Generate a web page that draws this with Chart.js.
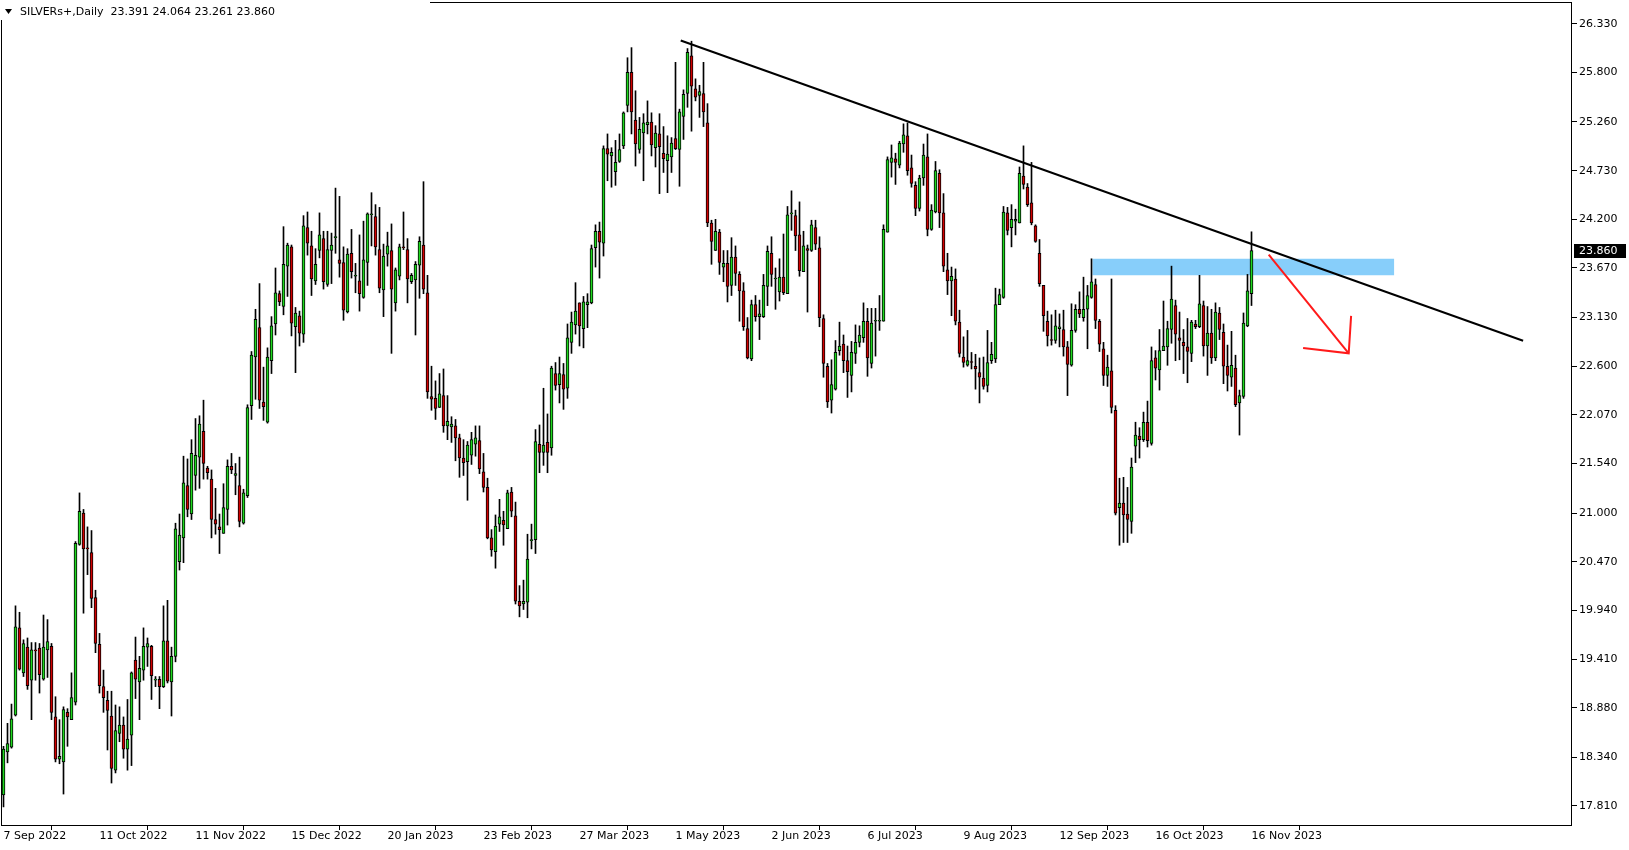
<!DOCTYPE html>
<html>
<head>
<meta charset="utf-8">
<title>SILVERs+ Daily</title>
<script src="https://cdn.jsdelivr.net/npm/chart.js@4.4.0/dist/chart.umd.min.js"></script>
<style>
  html, body { margin: 0; padding: 0; background: #fff; }
  #wrap { width: 1629px; height: 850px; }
</style>
</head>
<body>
<div id="wrap"><canvas id="chart" width="1629" height="850"></canvas></div>
<script>
// daily bars, 7 Sep 2022 .. 16 Nov 2023
const opens = [17.93,18.40,18.45,18.80,19.75,19.26,19.54,19.18,19.51,19.53,19.19,19.51,19.55,18.78,18.32,18.29,18.83,18.75,18.94,20.66,
21.00,20.62,20.57,20.08,19.57,19.11,18.96,18.79,18.20,18.60,18.69,18.43,18.58,19.40,19.16,19.29,19.54,19.55,19.18,19.19,
19.11,19.61,19.16,19.44,20.47,20.73,21.30,20.99,21.41,21.61,21.89,21.49,21.37,20.93,20.85,20.78,21.04,21.51,21.41,21.30,
20.89,21.19,22.17,22.70,23.02,22.21,21.99,22.66,23.06,23.39,23.25,23.69,23.90,23.03,23.15,22.95,24.11,23.91,23.53,23.86,
23.99,23.49,23.86,24.00,23.76,23.73,23.19,23.83,23.58,23.53,23.35,23.73,24.25,24.23,23.87,23.43,23.82,23.86,23.29,23.58,
23.90,23.87,23.52,23.54,23.70,23.92,23.40,22.27,22.25,22.15,22.28,21.95,21.94,21.95,21.82,21.60,21.56,21.63,21.75,21.79,
21.45,21.28,20.73,20.58,20.88,20.92,20.83,21.23,20.97,20.04,20.01,20.03,20.70,20.71,21.75,21.66,21.77,21.71,22.52,22.40,
22.51,22.36,22.86,23.05,23.29,23.01,23.27,23.29,23.89,24.07,23.94,24.97,24.89,24.72,24.83,25.00,25.44,25.80,25.28,24.96,
25.14,25.23,25.26,24.98,25.13,24.92,24.84,24.88,25.08,24.96,25.32,25.57,25.98,25.62,25.55,25.57,25.25,24.16,23.86,24.06,
23.68,23.72,23.48,23.79,23.60,23.42,23.01,22.68,23.27,23.14,23.14,23.47,23.83,23.55,23.41,23.57,23.39,24.26,24.24,24.03,
23.63,23.88,23.86,24.11,23.89,23.12,22.60,22.23,22.35,22.77,22.84,22.66,22.50,22.74,22.86,22.91,23.09,22.63,23.09,23.09,
23.09,24.06,24.82,24.86,24.79,25.02,25.11,24.76,24.57,24.32,24.65,24.88,24.09,24.28,24.70,24.27,23.65,23.53,23.55,23.08,
22.70,22.61,22.65,22.60,22.53,22.47,22.39,22.66,22.68,23.27,23.35,24.27,24.11,24.18,24.16,24.67,24.55,24.38,24.13,23.83,
23.48,23.09,22.89,22.88,23.01,23.00,22.81,22.61,22.99,23.22,23.13,23.22,23.35,23.49,23.09,22.79,22.50,22.55,22.12,21.06,
21.11,20.99,20.91,21.73,21.84,21.80,21.99,21.76,22.69,22.56,22.77,22.81,23.00,23.26,22.91,22.86,22.81,22.74,23.06,23.03,
23.26,22.82,22.96,22.69,23.18,22.97,22.60,22.48,22.58,22.20,22.27,23.04,23.391];
const highs = [18.46,18.71,18.92,19.99,19.92,19.62,19.64,19.59,19.59,19.58,19.89,19.84,19.58,19.00,18.75,18.89,18.87,19.26,20.69,21.22,
21.04,20.85,20.81,20.16,19.69,19.29,19.06,19.06,18.91,18.89,18.78,18.97,19.27,19.65,19.44,19.75,19.64,19.56,19.22,19.22,
19.99,20.05,19.54,20.89,20.99,21.62,21.59,21.80,22.03,22.06,22.23,21.51,21.47,21.27,20.99,21.32,21.58,21.65,21.54,21.61,
21.26,22.18,22.76,23.22,23.50,22.59,22.80,23.14,23.67,23.42,24.12,23.94,23.92,23.24,23.20,24.24,24.28,24.07,23.88,24.27,
24.07,24.07,24.05,24.54,24.45,23.90,23.88,24.09,23.72,24.03,24.18,24.27,24.49,24.36,24.33,23.93,24.06,24.15,23.67,23.93,
24.28,23.99,23.61,23.74,24.01,24.61,23.59,22.60,22.44,22.52,22.57,22.28,22.05,22.02,21.86,21.80,21.78,21.88,21.95,21.95,
21.65,21.38,20.82,20.98,21.15,21.02,21.25,21.28,21.12,20.21,20.27,20.77,20.88,21.91,21.96,22.36,22.08,22.60,22.64,22.70,
22.63,23.06,23.19,23.51,23.29,23.36,23.39,23.92,24.14,24.17,25.00,25.13,24.98,25.06,25.13,25.37,25.96,26.07,25.60,25.31,
25.35,25.49,25.36,25.22,25.35,25.21,25.11,25.09,25.91,25.40,25.61,26.06,26.14,25.73,25.66,25.91,25.46,24.19,24.20,24.09,
23.86,23.86,24.00,23.91,23.63,23.51,23.13,23.32,23.37,23.32,23.60,23.91,24.01,23.67,23.77,24.04,24.34,24.51,24.30,24.39,
24.07,23.92,24.19,24.19,24.01,23.16,22.63,22.67,22.88,23.08,22.94,22.82,22.87,23.05,23.04,23.29,23.23,23.23,23.23,23.37,
24.14,24.88,25.01,24.92,25.05,25.24,25.25,24.90,24.61,24.68,25.02,25.13,24.36,24.83,24.74,24.48,23.83,23.68,23.66,23.21,
22.92,22.99,22.75,22.73,22.69,22.70,22.99,22.86,23.45,23.44,24.34,24.33,24.36,24.31,24.77,25.00,24.59,24.82,24.14,23.98,
23.48,23.20,23.16,23.21,23.17,23.21,22.87,23.28,23.27,23.41,23.57,23.48,23.77,23.55,23.11,22.86,22.72,23.55,22.17,21.38,
21.39,21.28,21.60,21.99,21.93,22.10,22.22,22.81,22.77,23.00,23.31,23.09,23.69,23.32,23.19,23.00,23.12,23.10,23.10,23.59,
23.31,23.25,23.22,23.29,23.24,23.06,22.83,22.98,22.72,22.34,23.18,23.60,24.064];
const lows = [17.80,18.28,18.44,18.79,19.29,19.22,19.08,18.75,19.18,19.04,19.18,19.21,18.75,18.29,18.27,17.94,18.46,18.75,18.91,20.65,
19.91,20.33,19.97,19.48,19.04,18.83,18.42,18.06,18.17,18.51,18.33,18.20,18.25,18.98,18.75,19.18,19.33,18.97,19.11,18.87,
19.10,19.15,18.79,19.38,20.38,20.46,20.96,20.93,21.25,21.27,21.37,21.37,20.73,20.77,20.56,20.78,20.87,21.43,21.20,20.85,
20.88,21.17,22.02,22.24,22.14,22.01,21.98,22.52,22.94,23.26,23.16,23.36,22.93,22.53,22.82,22.86,23.81,23.37,23.49,23.78,
23.44,23.47,23.50,23.83,23.57,23.10,23.18,23.56,23.40,23.20,23.34,23.48,23.91,23.81,23.40,23.14,23.69,22.74,23.20,23.54,
23.87,23.29,23.50,22.94,23.34,23.39,22.25,22.12,22.02,22.15,21.88,21.80,21.77,21.57,21.39,21.41,21.14,21.53,21.62,21.43,
21.23,20.72,20.53,20.40,20.80,20.65,20.83,20.96,20.01,19.87,19.95,19.86,20.61,20.56,21.44,21.52,21.44,21.63,22.34,22.20,
22.13,22.25,22.74,22.95,22.82,22.80,23.02,23.28,23.68,23.56,23.80,24.62,24.55,24.57,24.82,24.97,25.37,25.13,24.78,24.92,
24.62,25.13,24.89,24.77,24.48,24.71,24.49,24.71,24.96,24.56,25.07,25.42,25.16,25.49,25.31,25.21,24.12,23.71,23.86,23.60,
23.52,23.30,23.37,23.48,23.09,22.99,22.68,22.66,23.09,22.89,23.13,23.26,23.47,23.22,23.31,23.38,23.39,24.08,23.86,23.58,
23.63,23.19,23.85,23.87,23.03,22.48,22.15,22.09,22.34,22.72,22.53,22.26,22.32,22.63,22.81,22.86,22.49,22.58,22.71,22.99,
23.09,24.06,24.66,24.58,24.76,24.93,24.68,24.55,24.24,24.29,24.57,24.02,24.08,24.27,24.11,23.63,23.38,23.15,23.05,22.70,
22.59,22.60,22.57,22.35,22.20,22.35,22.32,22.63,22.64,23.27,23.34,24.03,23.90,24.03,24.16,24.53,24.34,24.14,23.95,23.47,
22.98,22.82,22.83,22.85,22.81,22.71,22.28,22.60,22.97,23.13,23.09,22.79,23.34,23.01,22.76,22.39,22.38,22.09,20.98,20.65,
20.68,20.68,20.78,21.55,21.60,21.78,21.72,21.74,22.45,22.34,22.77,22.61,22.85,22.66,22.67,22.52,22.42,22.65,23.01,23.02,
22.71,22.50,22.63,22.66,22.89,22.41,22.33,22.38,22.16,21.85,22.25,23.03,23.261];
const closes = [18.43,18.49,18.76,19.76,19.30,19.58,19.12,19.51,19.50,19.24,19.54,19.60,18.83,18.32,18.35,18.86,18.78,18.99,20.67,21.02,
20.61,20.61,20.07,19.58,19.12,18.99,18.85,18.22,18.63,18.69,18.43,18.54,19.26,19.19,19.31,19.55,19.58,19.23,19.18,19.11,
19.61,19.17,19.44,20.83,20.76,21.33,21.04,21.65,21.63,21.97,21.54,21.44,20.93,20.88,20.82,21.06,21.51,21.47,21.43,20.91,
21.22,22.15,22.72,23.11,22.23,22.16,22.70,23.04,23.40,23.30,23.71,23.92,23.07,23.18,22.96,24.13,23.94,23.55,23.71,24.03,
23.52,23.87,23.92,24.01,23.72,23.21,23.82,23.63,23.58,23.39,23.76,24.26,24.25,23.90,23.45,23.80,23.91,23.44,23.65,23.90,
23.89,23.55,23.59,23.71,23.96,23.44,22.32,22.24,22.14,22.30,21.95,22.00,21.97,21.82,21.60,21.55,21.74,21.80,21.82,21.48,
21.28,20.73,20.60,20.86,20.96,20.87,21.22,21.02,20.04,19.99,20.04,20.50,20.70,21.78,21.66,21.74,21.66,22.58,22.39,22.52,
22.35,22.91,23.08,23.20,23.04,23.30,23.30,23.88,24.07,23.95,24.97,24.91,24.93,24.82,24.96,25.36,25.80,25.37,25.02,25.18,
25.25,25.26,25.01,25.14,24.99,24.86,24.91,25.03,24.97,25.37,25.56,26.02,25.65,25.53,25.59,25.37,24.16,23.96,24.07,23.73,
23.72,23.47,23.79,23.61,23.42,23.03,22.69,23.27,23.14,23.17,23.48,23.85,23.60,23.55,23.57,23.40,24.25,24.26,24.02,23.64,
23.91,23.86,24.14,23.93,23.13,22.63,22.21,22.40,22.75,22.82,22.66,22.54,22.75,22.86,22.94,23.09,22.69,23.07,23.09,23.10,
24.09,24.85,24.87,24.82,25.03,25.12,24.73,24.59,24.32,24.65,24.90,24.09,24.30,24.73,24.27,23.69,23.53,23.58,23.09,22.74,
22.64,22.66,22.64,22.57,22.48,22.38,22.64,22.73,23.27,23.38,24.28,24.08,24.20,24.20,24.70,24.58,24.36,24.16,23.96,23.50,
23.15,22.93,22.88,23.04,23.03,22.81,22.62,22.99,23.22,23.17,23.22,23.37,23.52,23.10,22.84,22.50,22.59,22.15,21.00,21.11,
20.98,20.93,21.50,21.85,21.80,21.99,21.79,22.66,22.58,22.77,22.82,23.01,23.33,22.95,22.88,22.82,22.76,23.08,23.03,23.28,
22.82,22.96,22.69,23.19,23.00,22.60,22.50,22.61,22.18,22.28,23.07,23.42,23.860];

// x axis labels and the bar each one sits on
const dateLabels = ['7 Sep 2022','11 Oct 2022','11 Nov 2022','15 Dec 2022','20 Jan 2023','23 Feb 2023','27 Mar 2023',
  '1 May 2023','2 Jun 2023','6 Jul 2023','9 Aug 2023','12 Sep 2023','16 Oct 2023','16 Nov 2023'];
const dateBars = [0,24,48,72,96,120,144,168,192,216,240,264,288,312];
// price scale labels
const priceTicks = [26.33,25.80,25.26,24.73,24.20,23.67,23.13,22.60,22.07,21.54,21.00,20.47,19.94,19.41,18.88,18.34,17.81];

// drawn objects: trend line, blue zone, red arrow  (bar index, price)
const trendLine = [[169.3, 26.148], [379.9, 22.877]];
const zoneBars = [272.2, 347.7];
const zonePrices = [23.771, 23.591];
const arrowLine = [[316.3, 23.816], [336.3, 22.741]];
const arrowHead = [[336.9, 23.148], [336.3, 22.741], [324.9, 22.799]];

const symbol = 'SILVERs+,Daily';
const last = closes.length - 1;

const upColor = '#1ed81e';
const downColor = '#d00000';

const bodies = opens.map((o, i) => ({ x: i, y: [o, closes[i]] }));
const wicks = lows.map((l, i) => ({ x: i, y: [l, highs[i]] }));
const bodyColors = opens.map((o, i) => closes[i] >= o ? upColor : downColor);

const toPts = arr => arr.map(p => ({ x: p[0], y: p[1] }));

// frame, title line and last price tag
const overlay = {
  id: 'overlay',
  afterDraw(chart) {
    const { ctx, chartArea: a, scales: { y } } = chart;
    ctx.save();
    ctx.strokeStyle = '#000';
    ctx.lineWidth = 1;
    ctx.strokeRect(Math.round(a.left) + 0.5, Math.round(a.top) + 0.5,
      Math.round(a.right - a.left) - 1, Math.round(a.bottom - a.top) - 1);

    // title
    ctx.fillStyle = '#fff';
    ctx.fillRect(0, 0, 430, 20);
    ctx.fillStyle = '#000';
    ctx.beginPath();
    ctx.moveTo(5, 9); ctx.lineTo(12, 9); ctx.lineTo(8.5, 14); ctx.closePath();
    ctx.fill();
    ctx.font = '11px "DejaVu Sans"';
    ctx.textBaseline = 'middle';
    ctx.textAlign = 'left';
    const ohlc = [opens[last], highs[last], lows[last], closes[last]].map(v => v.toFixed(3)).join(' ');
    ctx.fillText(symbol + '  ' + ohlc, 20, 12);

    // last price tag
    const py = Math.round(y.getPixelForValue(closes[last]));
    ctx.fillStyle = '#000';
    ctx.fillRect(Math.round(a.right) + 2, py - 7, 52, 14);
    ctx.fillStyle = '#fff';
    ctx.fillText(closes[last].toFixed(3), Math.round(a.right) + 7, py + 0.5);
    ctx.restore();
  }
};

new Chart(document.getElementById('chart'), {
  type: 'bar',
  data: {
    datasets: [
      {
        type: 'line', label: 'zone', order: 10,
        data: [{ x: zoneBars[0], y: zonePrices[0] }, { x: zoneBars[1], y: zonePrices[0] }],
        borderWidth: 0, pointRadius: 0, backgroundColor: '#87cefa',
        fill: { value: zonePrices[1] }
      },
      {
        label: 'wicks', order: 5, data: wicks, grouped: false,
        backgroundColor: '#000', borderWidth: 0, barThickness: 1
      },
      {
        label: 'bodies', order: 4, data: bodies, grouped: false,
        backgroundColor: bodyColors, borderColor: '#000', borderWidth: 1,
        borderSkipped: false, barThickness: 3, minBarLength: 1
      },
      {
        type: 'line', label: 'trend', order: 1, data: toPts(trendLine),
        borderColor: '#000', borderWidth: 2, pointRadius: 0, fill: false
      },
      {
        type: 'line', label: 'arrow', order: 0, data: toPts(arrowLine),
        borderColor: '#ff1a1a', borderWidth: 2, pointRadius: 0, fill: false
      },
      {
        type: 'line', label: 'arrowhead', order: 0, data: toPts(arrowHead),
        borderColor: '#ff1a1a', borderWidth: 2, pointRadius: 0, fill: false
      }
    ]
  },
  options: {
    responsive: false,
    animation: false,
    devicePixelRatio: 1,
    layout: { padding: { left: 1, top: 2, right: 0, bottom: 0 } },
    plugins: { legend: { display: false }, tooltip: { enabled: false } },
    scales: {
      x: {
        type: 'linear', offset: false,
        min: -0.625, max: 392.125,
        grid: { drawOnChartArea: false, drawTicks: true, tickLength: 4, color: '#000' },
        border: { display: false },
        afterBuildTicks: s => { s.ticks = dateBars.map(v => ({ value: v })); },
        afterFit: s => { s.height = 24; s.paddingLeft = 0; s.paddingRight = 0; },
        ticks: {
          autoSkip: false, maxRotation: 0, align: 'start', padding: 0,
          color: '#000', font: { family: 'DejaVu Sans', size: 11 },
          callback: v => dateLabels[dateBars.indexOf(v)]
        }
      },
      y: {
        position: 'right',
        min: 17.592, max: 26.567,
        grid: { drawOnChartArea: false, drawTicks: true, tickLength: 5, color: '#000' },
        border: { display: false },
        afterBuildTicks: s => { s.ticks = priceTicks.map(v => ({ value: v })); },
        afterFit: s => { s.width = 57; s.paddingTop = 0; s.paddingBottom = 0; },
        ticks: {
          padding: 2, color: '#000', font: { family: 'DejaVu Sans', size: 11 },
          callback: v => v.toFixed(3)
        }
      }
    }
  },
  plugins: [overlay]
});
</script>
</body>
</html>
